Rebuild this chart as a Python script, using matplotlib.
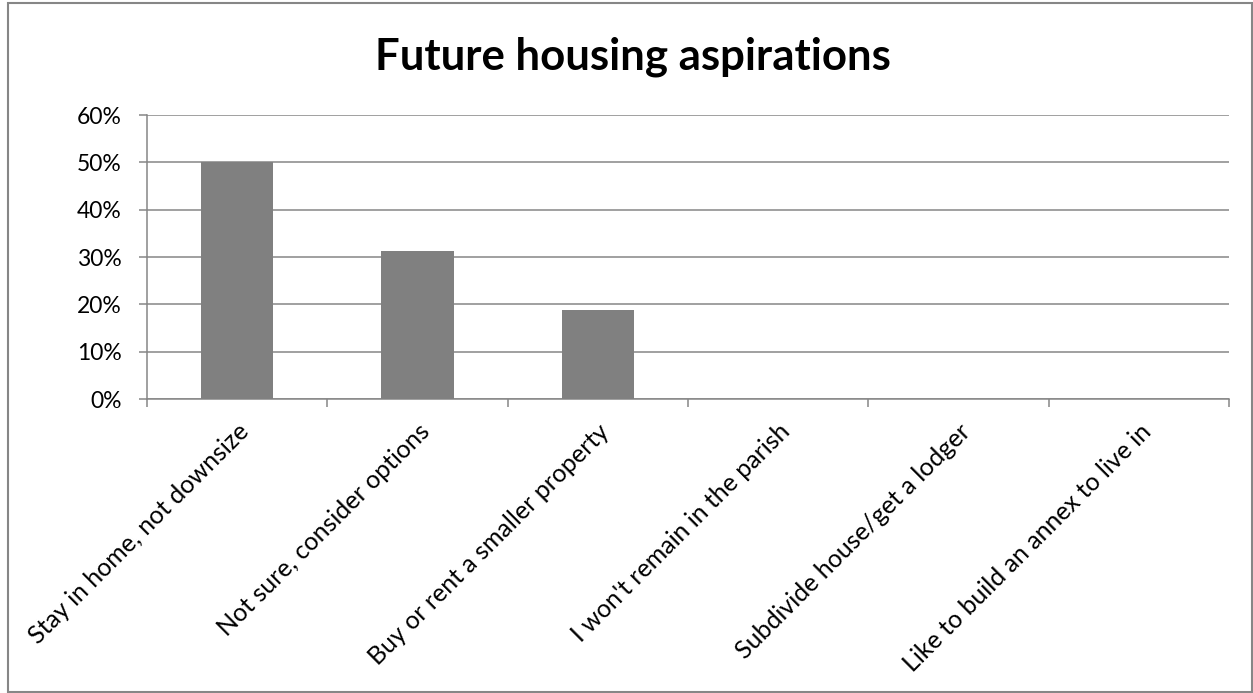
import numpy as np
import matplotlib
matplotlib.use("Agg")
import matplotlib.pyplot as plt
from matplotlib.patches import Rectangle
from matplotlib.ticker import FixedLocator, PercentFormatter

plt.rcParams['font.family'] = ['Lato', 'DejaVu Sans']

# survey answers (share of respondents)
categories = ["Stay in home, not downsize",
              "Not sure, consider options",
              "Buy or rent a smaller property",
              "I won't remain in the parish",
              "Subdivide house/get a lodger",
              "Like to build an annex to live in"]
shares = [0.50, 0.3125, 0.1875, 0.0, 0.0, 0.0]
yticks = [0, 0.1, 0.2, 0.3, 0.4, 0.5, 0.6]

grey = "#868686"

fig = plt.figure(figsize=(12.53, 6.93), dpi=100)
ax = fig.add_axes([0.1173, 0.4242, 0.8635, 0.4098])

x = np.arange(len(categories))
ax.bar(x, shares, width=0.4, color="#808080", zorder=3)

ax.set_xlim(-0.5, len(categories) - 0.5)
ax.set_ylim(0, 0.6)
ax.set_yticks(yticks)
ax.yaxis.set_major_formatter(PercentFormatter(1.0, decimals=0))
ax.grid(axis='y', color=grey, linewidth=1.1, zorder=0)

# category labels at centres, tick marks on the boundaries
ax.set_xticks(x)
ax.set_xticklabels(categories, rotation=45, ha='right', va='top',
                   rotation_mode='anchor', fontsize=18)
ax.tick_params(axis='x', length=0, pad=15)
ax.xaxis.set_minor_locator(FixedLocator(np.arange(-0.5, len(categories), 1.0)))
ax.tick_params(axis='x', which='minor', length=6, color=grey, width=1.1)
ax.tick_params(axis='y', length=6, color=grey, width=1.1, pad=12, labelsize=16.5)

for s in ['top', 'right']:
    ax.spines[s].set_visible(False)
for s in ['left', 'bottom']:
    ax.spines[s].set_color(grey)
    ax.spines[s].set_linewidth(1.1)

fig.text(0.505, 0.918, "Future housing aspirations", ha='center', va='center',
         fontsize=31.5, fontweight='bold')

# chart area border
fig.patches.append(Rectangle((8 / 1253, 1 / 693), 1244 / 1253, 689 / 693,
                             transform=fig.transFigure, fill=False,
                             edgecolor=grey, linewidth=1.5))

fig.savefig("out.png", dpi=100)
